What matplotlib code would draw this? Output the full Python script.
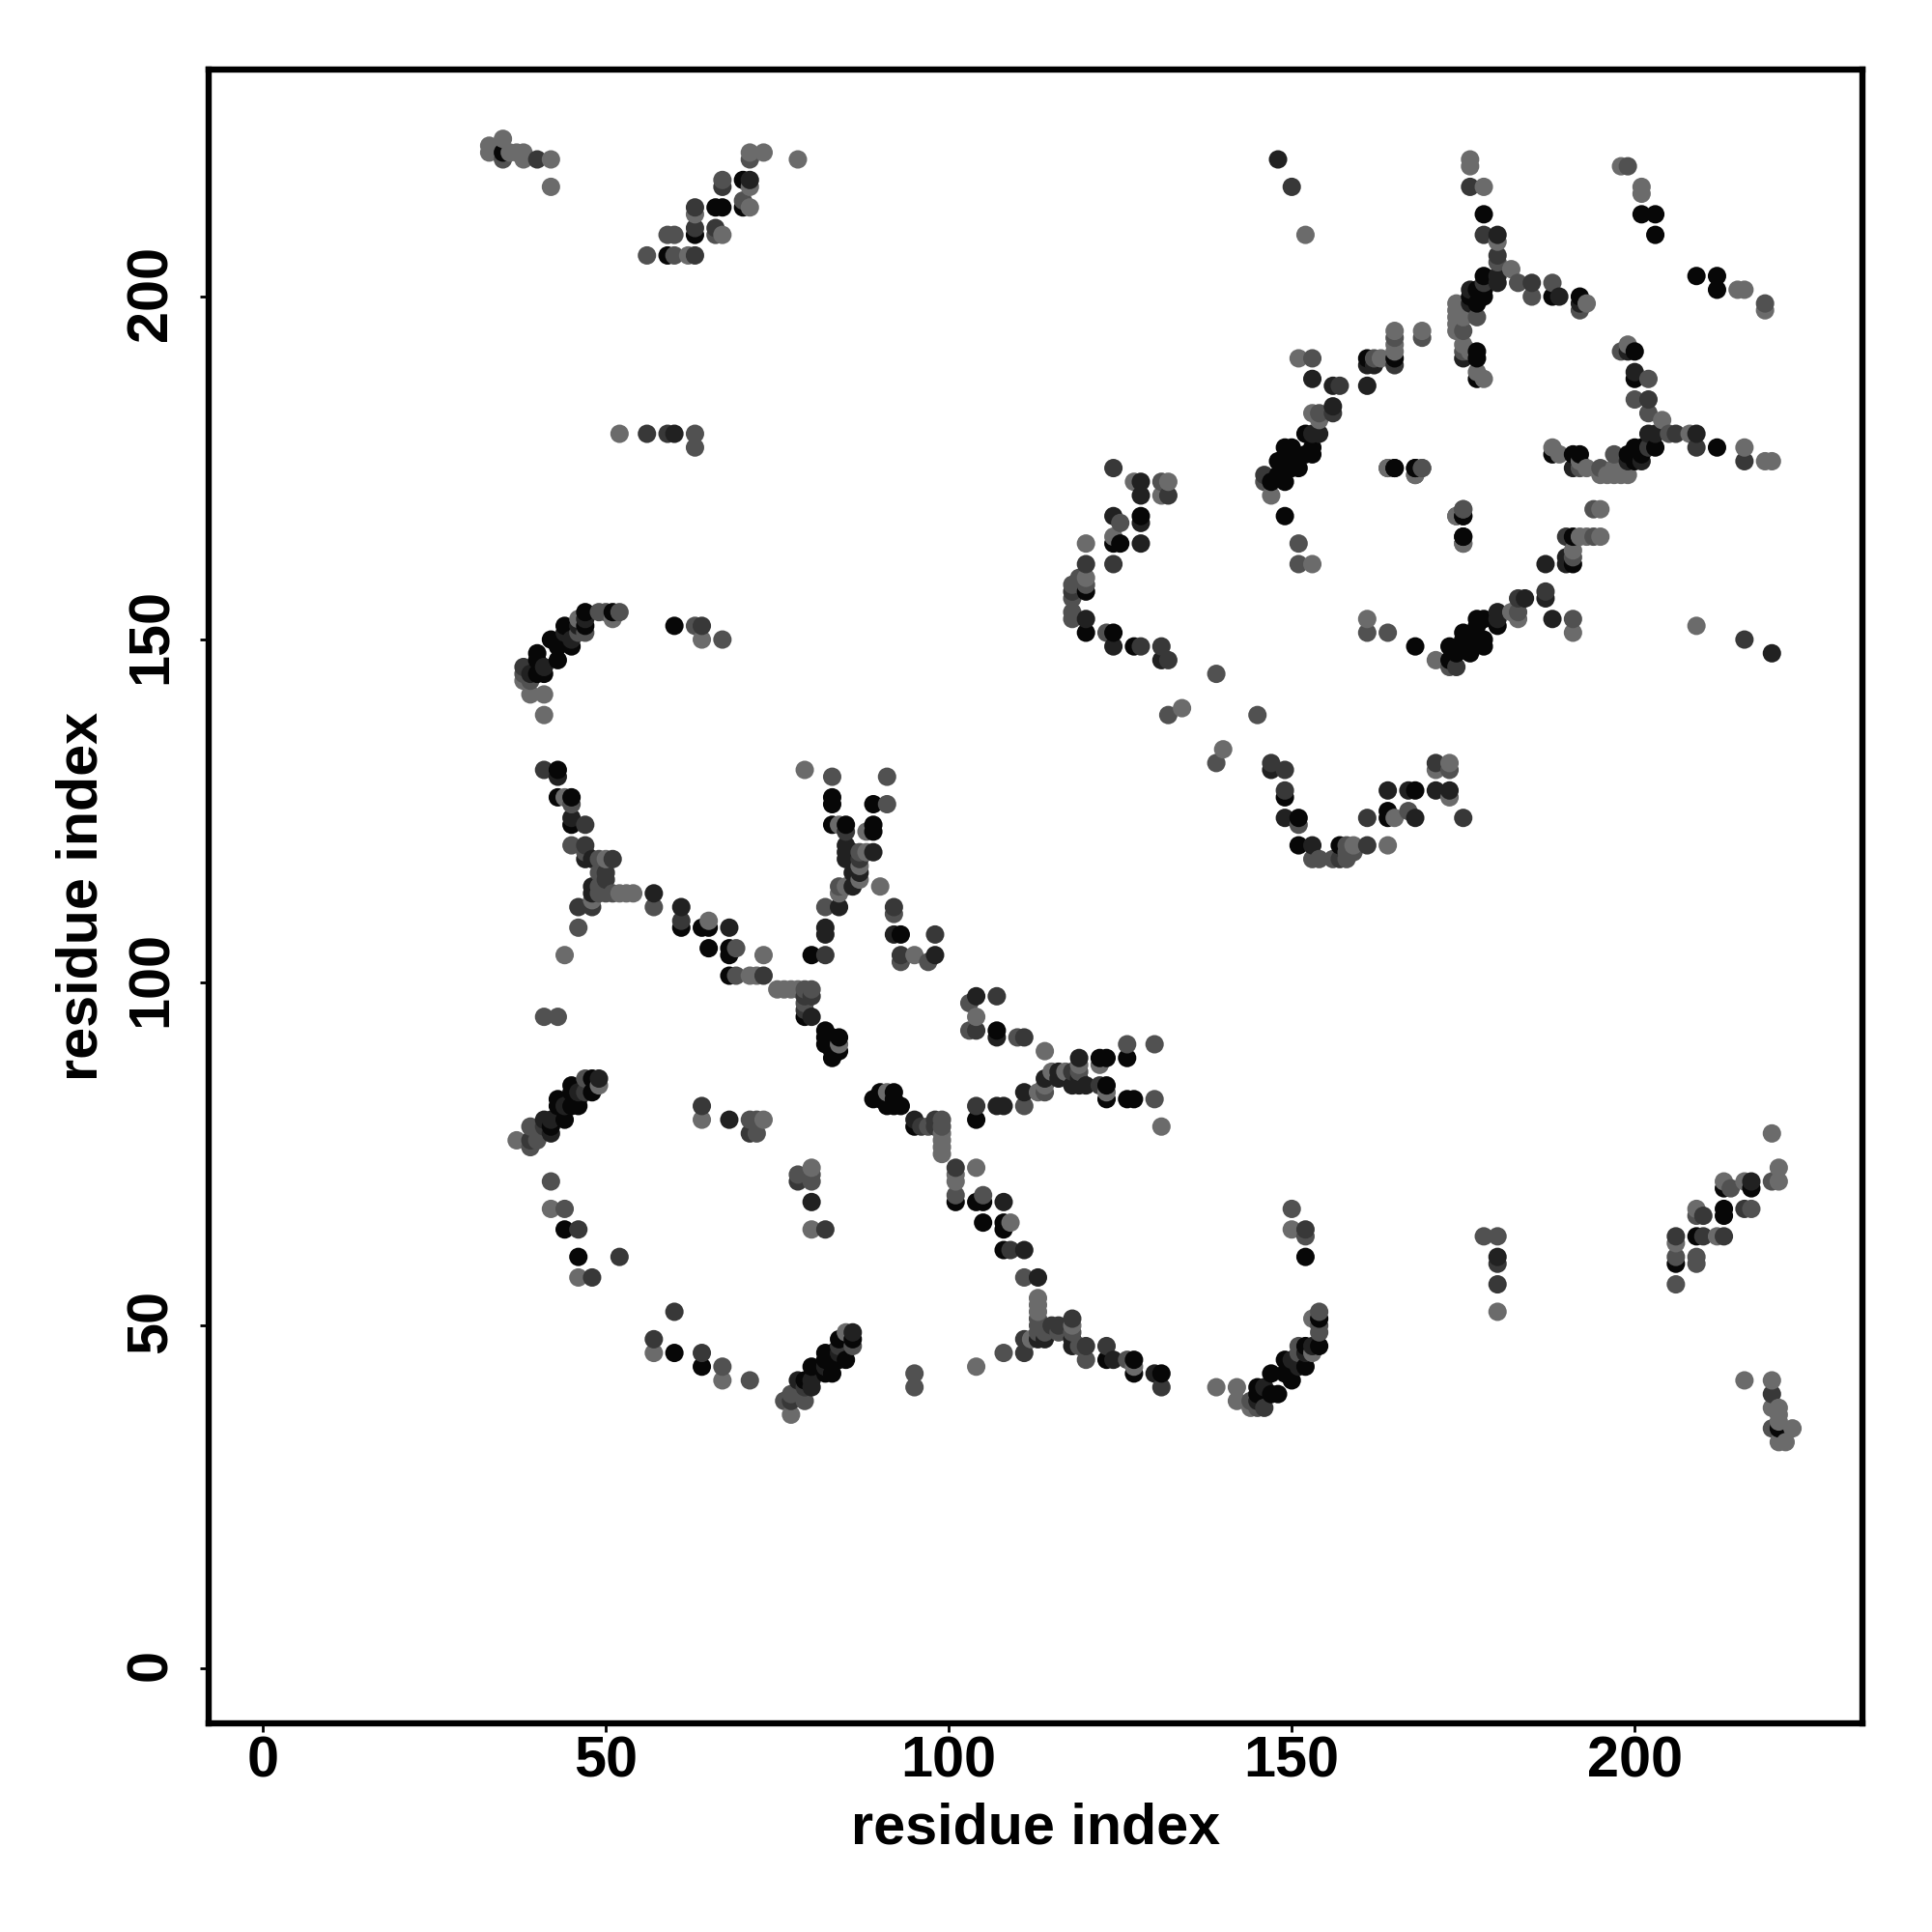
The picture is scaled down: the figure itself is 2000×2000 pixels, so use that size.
import numpy as np
import matplotlib
matplotlib.use("Agg")
import matplotlib.pyplot as plt
from matplotlib.transforms import ScaledTranslation

plt.rcParams['font.family'] = ['Liberation Sans', 'DejaVu Sans']

# contacts above the diagonal (i < j), grouped by how dark the dot is
black = [(35,221),(70,217),(66,213),(67,213),(70,213),(63,209),(59,206),
         (51,154),(47,154),(47,152),(44,152),(45,149),(42,150),(43,149),(40,148),(40,147),(43,147),(41,145),(40,145),
         (60,152),(43,131),(43,127),(45,127),(45,123),(61,108),(64,108),(65,108),(65,105),(68,105),(68,104),(80,104),
         (68,101),(79,95),(82,93),(82,92),(82,91),(83,92),(84,92),(84,90),(83,90),(83,89),
         (83,127),(83,126),(89,126),(83,123),(85,123),(89,123),(89,122),(93,107),
         (42,79),(43,83),(43,82),(44,80),(45,85),(45,84),(45,82),(46,83),(46,82),(48,86),(48,84),(44,64),(46,60),
         (128,168),(124,164),(125,164),(120,157),(120,151),(124,151),(127,149),
         (147,173),(148,176),(148,174),(149,178),(149,173),(150,178),(150,176),(150,175),(151,175),(152,180),(153,178),(153,177),(152,177),(149,168),
         (178,212),(188,200),(192,200),(178,203),(178,201),(177,201),(176,200),(177,199),(177,192),(177,191),(177,188),(178,200),
         (165,191),(161,191),(165,175),(168,175),(175,168),(175,165),(201,212),(203,212),(203,209)]
dark = [(71,217),(43,130),(45,124),(47,118),(48,118),(48,114),(48,113),(57,113),(61,111),(68,108),(80,95),(49,86),
        (47,153),(46,152),(44,151),(45,150),(41,146),(39,145),
        (85,120),(85,119),(85,118),(86,119),(89,119),(86,116),(87,116),(86,114),(84,111),(82,108),(82,107),(92,107),(98,104),
        (41,80),(42,78),(42,80),(68,80),(60,180),(46,84),(44,82),
        (128,173),(128,171),(124,168),(128,167),(128,164),(120,153),(124,149),(131,147),
        (153,180),(154,180),(156,184),(148,220),(180,209),(180,203),(180,202),(189,200),(192,199),(176,201),(176,199),(175,191),
        (161,190),(162,190),(153,188),(156,187),(161,187)]
mid = [(40,220),(67,216),(63,213),(63,210),(66,210),(63,206),(56,180),(59,180),
       (38,146),(64,152),(41,131),(47,123),(47,120),(51,118),(50,116),(50,115),(46,111),(48,111),(61,109),(82,104),(73,101),
       (79,98),(80,98),(79,96),(85,122),(87,118),(92,111),(93,104),(98,107),
       (39,77),(41,79),(46,64),(52,60),(48,57),(64,82),(71,78),(47,84),
       (124,175),(132,171),(120,161),(124,161),(118,157),(128,149),(131,149),(132,147),(146,174),
       (156,183),(150,216),(176,216),(178,209),(180,206),(185,202),(178,202),(165,190),(157,187)]
gray = [(35,220),(70,214),(71,220),(67,217),(59,209),(60,209),(66,209),(56,206),(60,206),(63,180),(63,178),
        (49,154),(50,154),(47,151),(46,151),(38,145),(39,144),(63,152),(67,150),(52,154),(146,173),
        (45,126),(45,120),(47,119),(49,118),(49,116),(49,114),(49,113),(50,113),(51,113),(57,111),(46,108),(69,105),
        (79,99),(80,99),(79,97),(69,101),(41,95),(43,95),
        (83,130),(91,130),(91,126),(87,119),(84,114),(82,111),(92,110),(93,103),(97,103),
        (39,76),(39,79),(40,77),(47,86),(42,71),(44,67),(71,80),(72,80),(72,78),
        (125,167),(131,173),(119,159),(119,158),(120,158),(118,158),(118,156),(118,154),(118,153),(123,151),(139,145),(132,139),
        (151,164),(151,161),(154,183),(180,205),(183,202),(185,200),(188,202),(192,198),(177,197),(175,195),(175,192),
        (165,194),(169,194),(162,191),(153,191),(169,175),(168,174),(175,169),(175,164),(199,219)]
light = [(33,222),(33,221),(35,223),(36,221),(37,221),(38,221),(38,220),(42,220),(42,216),(71,221),(73,221),(78,220),
         (71,216),(63,212),(71,213),(67,209),(62,206),(52,180),
         (51,153),(46,153),(38,144),(39,142),(41,142),(41,139),(64,150),(44,127),(50,118),(52,113),(53,113),(54,113),
         (48,112),(44,104),(65,109),(73,104),(71,101),(72,101),(75,99),(76,99),(77,99),(78,99),
         (79,131),(84,123),(88,122),(88,119),(87,117),(87,115),(85,114),(84,113),(90,114),(95,104),(84,91),
         (37,77),(49,85),(42,67),(46,57),(64,80),(73,80),
         (127,173),(132,173),(131,171),(124,165),(120,164),(120,159),(134,140),(147,171),
         (153,161),(153,183),(154,182),(152,209),(176,220),(176,219),(178,216),(180,208),(182,204),(193,199),
         (174,199),(174,198),(174,197),(174,196),(175,197),(174,195),(175,193),(176,192),(177,189),(178,188),
         (165,195),(165,193),(165,192),(169,195),(163,191),(151,191),(164,175),(174,168),(198,219),(201,216),(201,215)]

groups = [(black, 0.03), (dark, 0.13), (mid, 0.22), (gray, 0.32), (light, 0.42)]

xs, ys, cs = [], [], []
for pairs, shade in groups:
    for i, j in pairs:
        # the map is symmetric
        xs += [i, j]
        ys += [j, i]
        cs += [shade, shade]
xs = np.array(xs)
ys = np.array(ys)
cs = np.array(cs)
order = np.lexsort((ys, xs))

fig = plt.figure(figsize=(10, 10), dpi=200)
ax = fig.add_axes([216/2000, 216/2000, 1712/2000, 1712/2000])
ax.scatter(xs[order], ys[order], s=47, c=cs[order], cmap='gray', vmin=0, vmax=1, linewidths=0, zorder=3)

ax.set_xlim(-7.9, 233.2)
ax.set_ylim(-8.0, 233.1)
ax.set_xticks([0, 50, 100, 150, 200])
ax.set_yticks([0, 50, 100, 150, 200])
ax.tick_params(length=3.2, width=1, labelsize=21.4)
ax.tick_params(axis='x', pad=1.2)
ax.tick_params(axis='y', pad=8.2)
up = ScaledTranslation(0, 1.4/72, fig.dpi_scale_trans)
for lab in ax.get_xticklabels():
    lab.set_fontweight('bold')
for lab in ax.get_yticklabels():
    lab.set_fontweight('bold')
    lab.set_rotation(90)
    lab.set_va('center')
    lab.set_transform(lab.get_transform() + up)
for s in ax.spines.values():
    s.set_linewidth(2.3)
ax.set_xlabel('residue index', fontsize=21.4, fontweight='bold', labelpad=5)
ax.set_ylabel('residue index', fontsize=21.4, fontweight='bold', labelpad=6)

fig.savefig('out.png', dpi=200, facecolor='white')
